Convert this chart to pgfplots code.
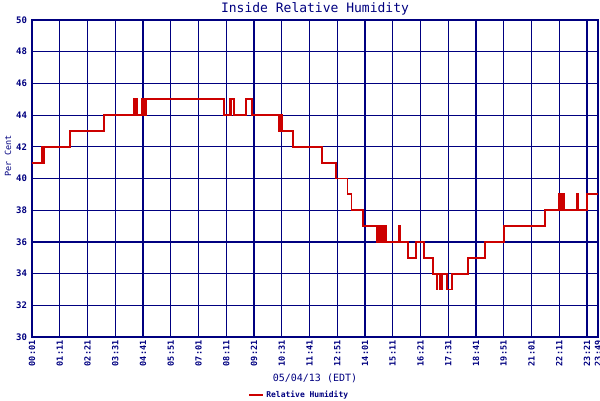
\documentclass[border=0pt]{standalone}
\usepackage{pgfplots}
\pgfplotsset{compat=1.18}
\usepackage{fontspec}
\setmainfont{DejaVu Sans Mono}
\definecolor{navy}{RGB}{0,0,128}
\definecolor{rhred}{RGB}{204,0,0}
\begin{document}
\begin{tikzpicture}[x=1pt,y=1pt]
\path[use as bounding box] (0,0) rectangle (600,400);
\begin{axis}[
  at={(32pt,63pt)}, anchor=south west, scale only axis,
  width=566pt, height=317pt,
  xmin=1, xmax=1429, ymin=30, ymax=50,
  xtick={1,71,141,211,281,351,421,491,561,631,701,771,841,911,981,1051,1121,1191,1261,1331,1401,1429},
  xticklabels={00:01,01:11,02:21,03:31,04:41,05:51,07:01,08:11,09:21,10:31,11:41,12:51,14:01,15:11,16:21,17:31,18:41,19:51,21:01,22:11,23:21,23:49},
  ytick={30,32,...,50},
  /pgf/number format/assume math mode=true,
  grid=major,
  major grid style={navy, line width=1.2pt},
  axis line style={navy, line width=2pt},
  major tick length=0pt,
  xticklabel style={rotate=90, anchor=east, font=\fontsize{8.5}{9}\selectfont\bfseries, text=navy},
  yticklabel style={font=\fontsize{9}{10}\selectfont\bfseries, text=navy, xshift=-1.5pt},
  xlabel={05/04/13 (EDT)},
  xlabel style={at={(axis description cs:0.5,-0.129)}, anchor=center, font=\fontsize{10}{12}\selectfont, text=navy},
  ylabel={Per Cent},
  ylabel style={at={(axis description cs:-0.0424,0.571)}, anchor=center, font=\fontsize{8.5}{10}\selectfont, text=navy},
  every axis title shift=0pt,
  title={Inside Relative Humidity},
  title style={at={(axis description cs:0.5,1.035)}, anchor=center, font=\fontsize{13}{15}\selectfont, text=navy},
  legend style={at={(axis description cs:0.472,-0.183)}, anchor=center, draw=none, fill=none,
    font=\fontsize{8}{9}\selectfont\bfseries, text=navy, inner sep=0pt},
  legend image code/.code={\draw[#1, line width=2.2pt] (0pt,0pt) -- (14pt,0pt);},
]
\addplot[const plot mark left, rhred, line width=1.9pt] coordinates {
(1,41)(27,42)(29,41)(31,42)(96,43)(183,44)(258,45)(260,44)(266,45)(267,44)(278,45)(280,44)(282,45)(285,44)(288,45)(485,44)(500,45)(501,44)(503,45)(510,44)(542,45)(555,44)(625,43)(626,44)(627,43)(629,44)(631,43)(659,42)(732,41)(767,40)(797,39)(807,38)(835,37)(871,36)(873,37)(875,36)(878,37)(880,36)(882,37)(885,36)(887,37)(889,36)(892,37)(895,36)(927,37)(929,36)(949,35)(970,36)(991,35)(1012,34)(1022,33)(1024,34)(1030,33)(1032,34)(1034,33)(1035,34)(1047,33)(1060,34)(1100,35)(1144,36)(1192,37)(1295,38)(1331,39)(1333,38)(1337,39)(1339,38)(1341,39)(1343,38)(1376,39)(1378,38)(1401,39)(1429,39)
};
\addlegendentry{Relative Humidity}
\end{axis}
\end{tikzpicture}
\end{document}
